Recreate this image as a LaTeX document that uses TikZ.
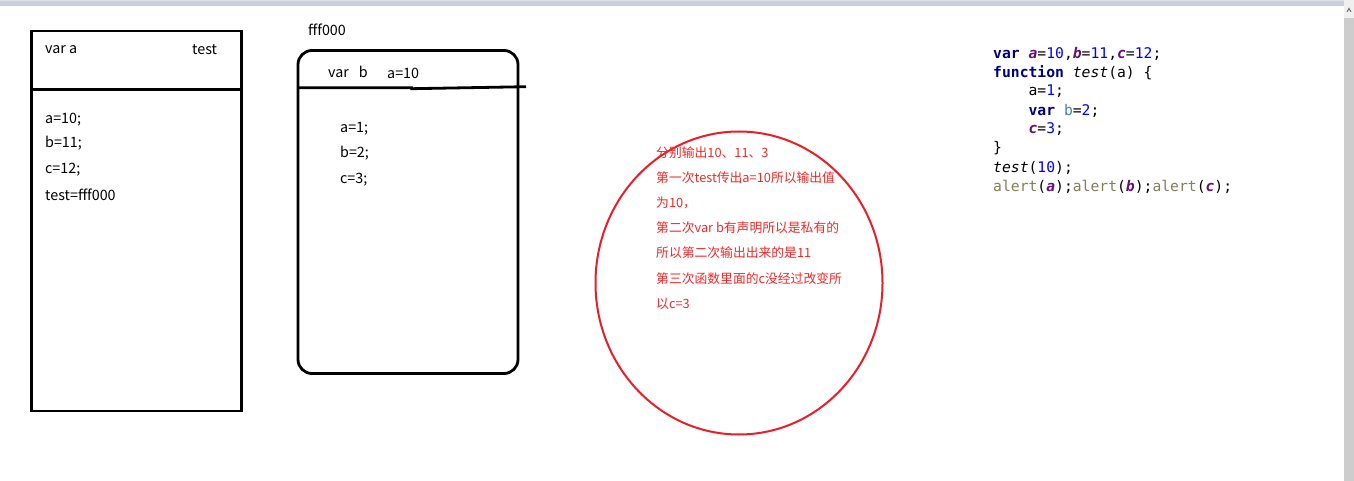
\documentclass[tikz,border=0pt]{standalone}
\usepackage{fontspec}
\setmainfont{Noto Sans CJK SC}
\newfontfamily\codefont{DejaVu Sans Mono}
\usetikzlibrary{shapes.geometric}
\definecolor{kw}{RGB}{0,0,128}
\definecolor{gv}{RGB}{102,14,122}
\definecolor{num}{RGB}{0,0,255}
\definecolor{fn}{RGB}{128,128,90}
\definecolor{lv}{RGB}{69,131,176}
\definecolor{redline}{RGB}{232,30,40}
\definecolor{redtext}{RGB}{240,40,40}
\definecolor{barcol}{RGB}{200,208,222}
\definecolor{scrollcol}{RGB}{205,205,205}
\tikzset{
  lbl/.style={anchor=west,inner sep=0pt,font=\fontsize{14.3}{16}\selectfont},
  rtxt/.style={anchor=west,inner sep=0pt,text=redtext,font=\fontsize{12.8}{15}\selectfont},
  code/.style={anchor=west,inner sep=0pt,font=\codefont\fontsize{14.7}{17}\selectfont},
  boxline/.style={line width=2.8pt,draw=black},
}
\newcommand{\KW}[1]{\textcolor{kw}{\bfseries #1}}
\newcommand{\GV}[1]{\textcolor{gv}{\bfseries\itshape #1}}
\newcommand{\NM}[1]{\textcolor{num}{#1}}
\newcommand{\FN}[1]{\textcolor{fn}{#1}}
\begin{document}
\begin{tikzpicture}[x=1pt,y=-1pt]
\useasboundingbox (0,0) rectangle (1354,481);
\fill[white] (0,0) rectangle (1354,481);
% window chrome
\fill[barcol] (0,0) rectangle (1344,6);
\fill[black!12] (0,0) rectangle (1344,1);
\fill[scrollcol] (1344,0) rectangle (1354,481);
\fill[black!6] (1344,0) rectangle (1354,18);
\fill[black!60] (1346.5,12) -- (1349,7.5) -- (1351.5,12) -- (1350.5,12) -- (1349,9.5) -- (1347.5,12) -- cycle;

% left box
\node[boxline,draw,rectangle,outer sep=0pt,minimum width=210pt,minimum height=380pt,inner sep=0pt,anchor=north west] (gbox) at (31.5,31) {};
\coordinate (gdl) at (31.5,89.5);
\coordinate (gdr) at (241.5,89.5);
\draw[boxline] (gdl) -- (gdr);
\node[lbl] (vara) at (45,49.5) {var a};
\node[lbl] (testh) at (192,49.5) {test};
\node[lbl] (ga) at (45,119.5) {a=10;};
\node[lbl] (gb) at (45,143.5) {b=11;};
\node[lbl] (gc) at (45,169.5) {c=12;};
\node[lbl] (gt) at (45,194.5) {test=fff000};

% middle box
\node[lbl] (addr) at (308,29.5) {fff000};
\node[boxline,draw,rectangle,outer sep=0pt,rounded corners=14pt,minimum width=220pt,minimum height=323pt,inner sep=0pt,anchor=north west] (fbox) at (298,50.5) {};
\coordinate (fdl) at (298,87.7);
\coordinate (fdm) at (411.7,87.7);
\coordinate (fdr) at (526,86.7);
\draw[boxline] (fdl) -- (fdm) -- ([yshift=-1pt]fdm) -- (fdr);
\node[lbl] (varb) at (328,71.5) {var\hspace{10pt}b};
\node[lbl] (pa) at (387,73.5) {a=10};
\node[lbl] (fa) at (340,128.5) {a=1;};
\node[lbl] (fb) at (340,153.5) {b=2;};
\node[lbl] (fc) at (340,179.5) {c=3;};

% ellipse
\node[ellipse,draw=redline,line width=2pt,minimum width=287pt,minimum height=303pt,inner sep=0pt] (ell) at (739,283) {};
\node[rtxt] (r1) at (656,153) {分别输出10、11、3};
\node[rtxt] (r2) at (656,178) {第一次test传出a=10所以输出值};
\node[rtxt] (r3) at (656,203) {为10，};
\node[rtxt] (r4) at (656,228) {第二次var b有声明所以是私有的};
\node[rtxt] (r5) at (656,253) {所以第二次输出出来的是11};
\node[rtxt] (r6) at (656,279) {第三次函数里面的c没经过改变所};
\node[rtxt] (r7) at (656,304) {以c=3};

% code
\node[code] (c1) at (993,53.5) {\KW{var} \GV{a}=\NM{10},\GV{b}=\NM{11},\GV{c}=\NM{12};};
\node[code] (c2) at (993,72.5) {\KW{function} \textit{test}(a) \{};
\node[code] (c3) at (993,91.5) {\phantom{xxxx}a=\NM{1};};
\node[code] (c4) at (993,110.5) {\phantom{xxxx}\KW{var} \textcolor{lv}{b}=\NM{2};};
\node[code] (c5) at (993,129.5) {\phantom{xxxx}\GV{c}=\NM{3};};
\node[code] (c6) at (993,148.5) {\}};
\node[code] (c7) at (993,167.5) {\textit{test}(\NM{10});};
\node[code] (c8) at (993,186.5) {\FN{alert}(\GV{a});\FN{alert}(\GV{b});\FN{alert}(\GV{c});};
\end{tikzpicture}
\end{document}
